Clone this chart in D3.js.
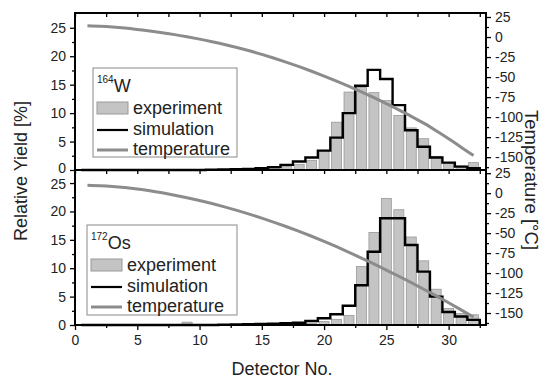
<!DOCTYPE html>
<html>
<head>
<meta charset="utf-8">
<script src="https://cdn.jsdelivr.net/npm/d3@7"></script>
<style>
  body { margin: 0; background: #fff; }
  text { font-family: "Liberation Sans", Arial, sans-serif; fill: #222; }
</style>
</head>
<body>
<div class="canvas"></div>
<script>
// detector numbers (categories)
const detectors = [1,2,3,4,5,6,7,8,9,10,11,12,13,14,15,16,17,18,19,20,21,22,23,24,25,26,27,28,29,30,31,32];

// 164W panel
const expW  = [0,0,0,0,0,0,0,0,0,0,0,0,0,0,0.1,0.3,0.6,1.0,1.7,3.4,8.4,13.7,14.5,13.6,12.2,9.6,7.4,5.5,2.4,1.2,0.7,1.3];
const simW  = [0,0,0,0,0,0,0,0,0,0,0.05,0.1,0.15,0.2,0.3,0.5,0.9,1.5,2.2,3.4,5.7,10.0,14.8,17.6,16.0,11.4,7.0,4.1,2.2,1.3,0.6,0.3];
const tempW = [14,13.4,12.5,11.2,9.5,7.6,5.4,3,0.3,-2.6,-5.8,-9.3,-13.1,-17.2,-21.7,-26.5,-31.6,-37,-42.7,-48.7,-55,-61.6,-68.5,-75.7,-83.2,-91,-99,-107.5,-117,-127,-137.5,-148];

// 172Os panel
const expOs  = [0,0,0,0,0,0,0,0,0.5,0,0,0,0,0,0,0,0,0.1,0.3,0.6,1.0,1.7,10.3,16.3,22.3,20.3,15.5,11.3,6.3,2.9,2.0,1.8];
const simOs  = [0,0,0,0,0,0,0,0,0,0,0,0.05,0.1,0.15,0.2,0.25,0.3,0.4,0.7,1.2,1.9,3.4,7.0,12.9,18.8,18.8,14.1,9.4,5.0,2.3,1.5,0.9];
const tempOs = [10,9.4,8.4,7,5.2,3,0.4,-2.5,-5.7,-9.2,-13,-17.1,-21.5,-26.2,-31.2,-36.5,-42,-47.8,-53.9,-60.3,-67,-74,-81.2,-88.6,-96.2,-104,-112,-120.2,-128.6,-137.2,-146,-155];

// tick labels
const xTicks = [0,5,10,15,20,25,30];
const xMinor = [2.5,7.5,12.5,17.5,22.5,27.5,32.5];
const yTicks = [0,5,10,15,20,25];
const yMinor = [2.5,7.5,12.5,17.5,22.5];
const tTicks = [25,0,-25,-50,-75,-100,-125,-150];
const tMinor = [12.5,-12.5,-37.5,-62.5,-87.5,-112.5,-137.5,-162.5];

const legendNames = ['experiment','simulation','temperature'];

const svg = d3.select('.canvas')
  .append('svg')
    .attr('width',542)
    .attr('height',378);

const left = 75, right = 486;
const x = d3.scaleLinear().domain([0,33]).range([left,right]);

const panels = [
  {iso:'164', el:'W',  exp:expW,  sim:simW,  temp:tempW,  top:13,  bottom:170, yMax:27.6, tMin:-166, tMax:30, bx:93, by:68, bw:144, bh:89},
  {iso:'172', el:'Os', exp:expOs, sim:simOs, temp:tempOs, top:170, bottom:325, yMax:27.3, tMin:-165, tMax:29, bx:87, by:225, bw:150, bh:90}
];

const barFill = '#c4c4c4', barStroke = '#999', tempColor = '#8c8c8c';

panels.forEach((p,pi) => {
  const y = d3.scaleLinear().domain([0,p.yMax]).range([p.bottom,p.top]);
  const t = d3.scaleLinear().domain([p.tMin,p.tMax]).range([p.bottom,p.top]);
  const g = svg.append('g');

  // experiment bars
  g.selectAll('rect.bar')
    .data(detectors.filter((d,i) => p.exp[i] > 0))
    .enter()
    .append('rect')
      .attr('class','bar')
      .attr('x', d => x(d-0.4))
      .attr('width', x(0.8)-x(0))
      .attr('y', d => y(p.exp[d-1]))
      .attr('height', d => y(0)-y(p.exp[d-1]))
      .attr('fill', barFill)
      .attr('stroke', barStroke)
      .attr('stroke-width', 0.8);

  // simulation step line
  const steps = detectors.map((d,i) => [d-0.5, p.sim[i]]);
  steps.push([32.5, p.sim[31]]);
  steps.push([32.5, 0]);
  g.append('path')
    .datum(steps)
    .attr('fill','none')
    .attr('stroke','#000')
    .attr('stroke-width',2.4)
    .attr('d', d3.line().x(d => x(d[0])).y(d => y(d[1])).curve(d3.curveStepAfter));

  // temperature
  g.append('path')
    .datum(detectors.map((d,i) => [d, p.temp[i]]))
    .attr('fill','none')
    .attr('stroke',tempColor)
    .attr('stroke-width',3)
    .attr('d', d3.line().x(d => x(d[0])).y(d => t(d[1])).curve(d3.curveMonotoneX));

  // left axis
  const la = g.append('g').attr('transform',`translate(${left},0)`)
    .call(d3.axisLeft(y).tickValues(yTicks).tickSize(5).tickPadding(4));
  // nudge the labels that meet at the shared border
  la.selectAll('.tick text').filter(d => pi === 0 ? d === 0 : d === 25)
    .attr('dy', pi === 0 ? '0.18em' : '0.42em');
  g.append('g').attr('transform',`translate(${left},0)`)
    .call(d3.axisLeft(y).tickValues(yMinor).tickSize(3).tickFormat(''));

  // right axis
  g.append('g').attr('transform',`translate(${right},0)`)
    .call(d3.axisRight(t).tickValues(tTicks).tickSize(5).tickPadding(4).tickFormat(d => String(d)));
  g.append('g').attr('transform',`translate(${right},0)`)
    .call(d3.axisRight(t).tickValues(tMinor).tickSize(3).tickFormat(''));

  // inward ticks on top edge
  g.append('g').attr('transform',`translate(0,${p.top})`)
    .call(d3.axisBottom(x).tickValues(xTicks.concat(xMinor)).tickSize(4).tickFormat(''));

  // legend
  const lg = g.append('g').attr('transform',`translate(${p.bx},${p.by})`);
  lg.append('rect').attr('width',p.bw).attr('height',p.bh)
    .attr('fill','#fff').attr('stroke','#8a8a8a').attr('stroke-width',1);
  const title = lg.append('text').attr('x',4).attr('y',24);
  title.append('tspan').attr('font-size',10).attr('dy',-9).text(p.iso);
  title.append('tspan').attr('font-size',18).attr('dy',9).text(p.el);
  lg.append('rect').attr('x',4).attr('y',34).attr('width',31).attr('height',12)
    .attr('fill',barFill).attr('stroke',barStroke);
  lg.append('line').attr('x1',4).attr('x2',35).attr('y1',62).attr('y2',62)
    .attr('stroke','#000').attr('stroke-width',2.2);
  lg.append('line').attr('x1',4).attr('x2',35).attr('y1',82).attr('y2',82)
    .attr('stroke',tempColor).attr('stroke-width',3);
  lg.selectAll('text.item')
    .data(legendNames)
    .enter()
    .append('text')
      .attr('class','item')
      .attr('x',40)
      .attr('y',(d,i) => [46,67,87][i])
      .attr('font-size',18)
      .text(d => d);
});

// bottom axis
svg.append('g').attr('transform','translate(0,325)')
  .call(d3.axisBottom(x).tickValues(xTicks).tickSize(5).tickPadding(5));
svg.append('g').attr('transform','translate(0,325)')
  .call(d3.axisBottom(x).tickValues(xMinor).tickSize(3).tickFormat(''));

// axis styling
svg.selectAll('.domain').remove();
svg.selectAll('.tick line').attr('stroke','#000').attr('stroke-width',1.3);
svg.selectAll('.tick text').attr('font-size',14).attr('fill','#222')
  .style('font-family','"Liberation Sans", Arial, sans-serif');

// frame
svg.append('rect').attr('x',left).attr('y',13).attr('width',right-left).attr('height',312)
  .attr('fill','none').attr('stroke','#000').attr('stroke-width',2);
svg.append('line').attr('x1',left).attr('x2',right).attr('y1',170).attr('y2',170)
  .attr('stroke','#000').attr('stroke-width',2);

// axis titles
svg.append('text').attr('transform','translate(27,171) rotate(-90)')
  .attr('text-anchor','middle').attr('font-size',18).text('Relative Yield [%]');
svg.append('text').attr('transform','translate(525,180) rotate(90)')
  .attr('text-anchor','middle').attr('font-size',18.5).text('Temperature [°C]');
svg.append('text').attr('x',282).attr('y',375)
  .attr('text-anchor','middle').attr('font-size',18).text('Detector No.');
</script>
</body>
</html>
